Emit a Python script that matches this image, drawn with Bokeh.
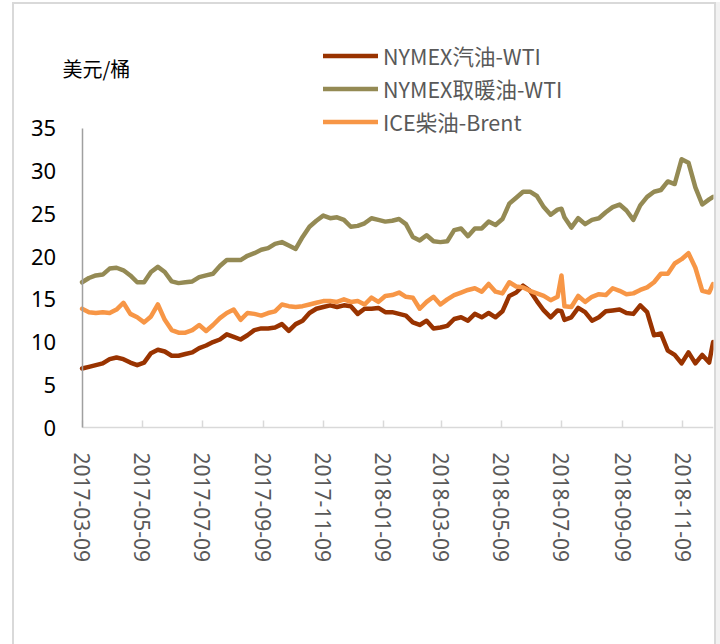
import pandas as pd
from bokeh.plotting import figure
from bokeh.models import (Legend, LegendItem, FixedTicker, DatetimeTickFormatter,
                          Label, ColumnDataSource, Range1d)
from bokeh.embed import file_html
from bokeh.resources import INLINE

dates = [
    "2017-03-09", "2017-03-16", "2017-03-23", "2017-03-30", "2017-04-06", "2017-04-13",
    "2017-04-20", "2017-04-27", "2017-05-04", "2017-05-11", "2017-05-18", "2017-05-25",
    "2017-06-01", "2017-06-08", "2017-06-15", "2017-06-22", "2017-06-29", "2017-07-06",
    "2017-07-13", "2017-07-20", "2017-07-27", "2017-08-03", "2017-08-10", "2017-08-17",
    "2017-08-24", "2017-08-31", "2017-09-07", "2017-09-14", "2017-09-21", "2017-09-28",
    "2017-10-05", "2017-10-12", "2017-10-19", "2017-10-26", "2017-11-02", "2017-11-09",
    "2017-11-16", "2017-11-23", "2017-11-30", "2017-12-07", "2017-12-14", "2017-12-21",
    "2017-12-28", "2018-01-04", "2018-01-11", "2018-01-18", "2018-01-25", "2018-02-01",
    "2018-02-08", "2018-02-15", "2018-02-22", "2018-03-01", "2018-03-08", "2018-03-15",
    "2018-03-22", "2018-03-29", "2018-04-05", "2018-04-12", "2018-04-19", "2018-04-26",
    "2018-05-03", "2018-05-10", "2018-05-17", "2018-05-24", "2018-05-31", "2018-06-07",
    "2018-06-14", "2018-06-21", "2018-06-28", "2018-07-05", "2018-07-09", "2018-07-12",
    "2018-07-19", "2018-07-26", "2018-08-02", "2018-08-09", "2018-08-16", "2018-08-23",
    "2018-08-30", "2018-09-06", "2018-09-13", "2018-09-20", "2018-09-27", "2018-10-04",
    "2018-10-11", "2018-10-18", "2018-10-25", "2018-11-01", "2018-11-08", "2018-11-15",
    "2018-11-22", "2018-11-29", "2018-12-06", "2018-12-10",
]

gasoline_wti = [
    6.9, 7.1, 7.3, 7.5, 8.0, 8.2, 8.0, 7.6, 7.3, 7.6, 8.7, 9.1,
    8.9, 8.4, 8.4, 8.6, 8.8, 9.3, 9.6, 10.0, 10.3, 10.9, 10.6, 10.3,
    10.8, 11.4, 11.6, 11.6, 11.7, 12.1, 11.3, 12.1, 12.5, 13.4, 13.9, 14.1,
    14.3, 14.1, 14.3, 14.2, 13.3, 13.9, 13.9, 14.0, 13.5, 13.5, 13.3, 13.1,
    12.3, 12.0, 12.5, 11.6, 11.7, 11.9, 12.7, 12.9, 12.5, 13.3, 12.9, 13.4,
    12.9, 13.6, 15.4, 15.8, 16.6, 16.0, 14.8, 13.7, 12.9, 13.7, 13.6, 12.6,
    12.9, 14.0, 13.5, 12.5, 12.9, 13.6, 13.7, 13.8, 13.4, 13.3, 14.3, 13.5,
    10.8, 11.0, 9.0, 8.5, 7.5, 8.8, 7.5, 8.5, 7.6, 10.0,
]

heating_oil_wti = [
    17.0, 17.5, 17.8, 17.9, 18.6, 18.7, 18.4, 17.8, 17.0, 17.0, 18.2, 18.8,
    18.2, 17.1, 16.9, 17.0, 17.1, 17.6, 17.8, 18.0, 18.9, 19.6, 19.6, 19.6,
    20.1, 20.4, 20.8, 21.0, 21.5, 21.7, 21.3, 20.9, 22.3, 23.5, 24.2, 24.8,
    24.5, 24.6, 24.3, 23.5, 23.6, 23.9, 24.5, 24.3, 24.1, 24.2, 24.4, 23.8,
    22.3, 21.9, 22.5, 21.8, 21.7, 21.8, 23.1, 23.3, 22.4, 23.3, 23.3, 24.1,
    23.7, 24.4, 26.2, 26.9, 27.6, 27.6, 27.1, 25.8, 24.9, 25.5, 25.6, 24.6,
    23.4, 24.5, 23.8, 24.3, 24.5, 25.2, 25.8, 26.1, 25.4, 24.3, 26.0, 27.0,
    27.6, 27.8, 28.8, 28.5, 31.4, 31.0, 28.1, 26.1, 26.7, 27.0,
]

diesel_brent = [
    13.9, 13.5, 13.4, 13.5, 13.4, 13.8, 14.6, 13.3, 12.9, 12.3, 13.0, 14.4,
    12.6, 11.4, 11.1, 11.1, 11.4, 12.0, 11.3, 12.0, 12.8, 13.4, 13.8, 12.6,
    13.4, 13.3, 13.1, 13.4, 13.6, 14.4, 14.2, 14.1, 14.2, 14.4, 14.6, 14.8,
    14.8, 14.7, 15.0, 14.7, 14.8, 14.4, 15.2, 14.7, 15.4, 15.5, 15.8, 15.3,
    15.2, 13.9, 14.7, 15.3, 14.4, 15.0, 15.5, 15.8, 16.1, 16.3, 15.9, 16.8,
    15.9, 15.7, 17.0, 16.5, 16.4, 16.0, 15.7, 15.4, 14.9, 15.3, 17.8, 14.2,
    14.1, 15.4, 14.7, 15.3, 15.6, 15.5, 16.3, 16.0, 15.6, 15.7, 16.1, 16.4,
    17.0, 18.0, 18.0, 19.2, 19.7, 20.4, 18.7, 16.0, 15.8, 16.8,
]

series_names = ["NYMEX汽油-WTI", "NYMEX取暖油-WTI", "ICE柴油-Brent"]
series_colors = ["#993300", "#948A54", "#F79646"]

x_tick_labels = ["2017-03-09", "2017-05-09", "2017-07-09", "2017-09-09", "2017-11-09",
                 "2018-01-09", "2018-03-09", "2018-05-09", "2018-07-09", "2018-09-09",
                 "2018-11-09"]
y_ticks = [0, 5, 10, 15, 20, 25, 30, 35]
unit_label = "美元/桶"

source = ColumnDataSource(data=dict(
    date=pd.to_datetime(dates),
    gas=gasoline_wti,
    heat=heating_oil_wti,
    diesel=diesel_brent,
))

x_start = pd.Timestamp("2017-01-05 11:00")
x_end = pd.Timestamp("2018-12-10 10:00")
axis_origin = pd.Timestamp(dates[0])

border_css = ("linear-gradient(#d9d9d9,#d9d9d9) 12px 2px / 2px 642px no-repeat, "
              "linear-gradient(#d9d9d9,#d9d9d9) 12px 2px / 704px 2px no-repeat, "
              "linear-gradient(#d9d9d9,#d9d9d9) 714px 2px / 2px 642px no-repeat, "
              "linear-gradient(#f2f2f2,#f2f2f2) 716px 2px / 4px 642px no-repeat, #ffffff")

p = figure(
    width=720, height=644,
    x_axis_type="datetime",
    x_range=Range1d(x_start, x_end),
    y_range=Range1d(-25.40, 47.64),
    output_backend="svg", toolbar_location=None,
    min_border_left=20, min_border_right=7, min_border_top=20, min_border_bottom=0,
    styles={"background": border_css},
)
p.background_fill_color = "white"
p.border_fill_alpha = 0
p.outline_line_color = None
p.xgrid.visible = False
p.ygrid.visible = False

renderers = []
for col, color in zip(["gas", "heat", "diesel"], series_colors):
    r = p.line("date", col, source=source, line_color=color, line_width=4.5,
               line_join="round", line_cap="round")
    renderers.append(r)

tick_ms = [pd.Timestamp(s).value // 10**6 for s in x_tick_labels]
xa = p.xaxis[0]
xa.fixed_location = 0
xa.ticker = FixedTicker(ticks=tick_ms)
fmt = "%Y-%m-%d"
xa.formatter = DatetimeTickFormatter(
    milliseconds=fmt, seconds=fmt, minsec=fmt, minutes=fmt, hourmin=fmt, hours=fmt,
    days=fmt, months=fmt, years=fmt)
xa.bounds = (axis_origin.value // 10**6, x_end.value // 10**6)
xa.major_label_orientation = "vertical"
xa.major_label_text_font = "Noto Sans"
xa.major_label_text_font_size = "21px"
xa.major_label_text_color = "#595959"
xa.major_label_standoff = 25
xa.axis_line_color = "#d9d9d9"
xa.axis_line_width = 1.5
xa.major_tick_line_color = "#d9d9d9"
xa.major_tick_line_width = 1.5
xa.major_tick_in = 7
xa.major_tick_out = 0
xa.minor_tick_line_color = None

ya = p.yaxis[0]
ya.fixed_location = axis_origin.value // 10**6
ya.ticker = FixedTicker(ticks=y_ticks)
ya.bounds = (0, 35)
ya.major_label_text_font = "Noto Sans"
ya.major_label_text_font_size = "22px"
ya.major_label_text_color = "#000000"
ya.major_label_standoff = 26
ya.axis_line_color = "#a0a0a0"
ya.axis_line_width = 1.5
ya.major_tick_line_color = None
ya.major_tick_in = 0
ya.major_tick_out = 0
ya.minor_tick_line_color = None

legend = Legend(
    items=[LegendItem(label=n, renderers=[r]) for n, r in zip(series_names, renderers)],
    location=(303, 506),
    orientation="vertical",
    padding=0, margin=0, spacing=0,
    glyph_width=55, glyph_height=33, label_height=33, label_standoff=5,
    label_text_font="Noto Sans CJK SC", label_text_font_size="21.5px",
    label_text_color="#595959",
    border_line_color=None, background_fill_alpha=0,
)
p.add_layout(legend, "center")

p.add_layout(Label(x=42, y=576, x_units="screen", y_units="screen", text=unit_label,
                   text_font="Noto Sans CJK SC", text_font_size="20px",
                   text_color="#000000", text_baseline="middle"))

html = file_html(p, INLINE)
open("out.html", "w").write(html)
